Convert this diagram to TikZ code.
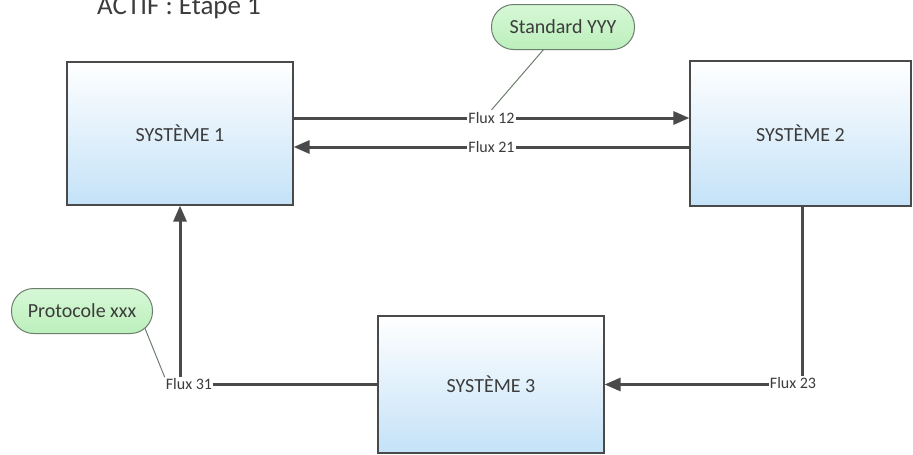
\documentclass[tikz,border=0pt]{standalone}
\usepackage{fontspec}
\setmainfont{Carlito}
\usetikzlibrary{arrows.meta,calc}
\pgfdeclarelayer{background}
\pgfsetlayers{background,main}
\definecolor{txt}{HTML}{3C3C3C}
\definecolor{edge}{HTML}{4A4A4A}
\definecolor{boxtop}{HTML}{FFFFFF}
\definecolor{boxbot}{HTML}{C4E2F8}
\definecolor{notetop}{HTML}{D6F8D6}
\definecolor{notebot}{HTML}{BCEFBC}
\definecolor{noteline}{HTML}{6E7E6E}
\tikzset{
  sysbox/.style={draw=edge, line width=1.2pt, top color=boxtop, bottom color=boxbot,
    inner sep=0pt, font=\fontsize{20}{24}\selectfont, text=txt},
  flow/.style={draw=edge, line width=3pt, -{Triangle[length=16pt,width=13pt]}},
  flowlbl/.style={fill=white, inner sep=1pt, font=\fontsize{16}{19}\selectfont, text=txt},
  note/.style={draw=noteline, line width=1pt, top color=notetop, bottom color=notebot,
    rounded corners=22pt, minimum height=45pt, inner sep=0pt,
    font=\fontsize{20}{24}\selectfont, text=txt},
  pointer/.style={draw=noteline, line width=1pt}
}
\begin{document}
\begin{tikzpicture}[x=1pt, y=-1pt]
\useasboundingbox (0,0) rectangle (913,455);

% heading
\node[anchor=base west, inner sep=0pt, font=\fontsize{27}{32}\selectfont, text=txt]
  (title) at (97,14) {ACTIF : Etape 1};

% systems
\node[sysbox, minimum width=226pt, minimum height=143pt] (s1) at (180,133.5) {SYSTÈME 1};
\node[sysbox, minimum width=221pt, minimum height=145pt] (s2) at (800.5,133.5) {SYSTÈME 2};
\node[sysbox, minimum width=226pt, minimum height=137pt] (s3) at (491,384.5) {SYSTÈME 3};

% flows between systems
\coordinate (y12) at (0,118);
\coordinate (y21) at (0,147);
\draw[flow] (s1.east |- y12) -- node[flowlbl] (l12) {Flux 12} (s2.west |- y12);
\draw[flow] (s2.west |- y21) -- node[flowlbl] (l21) {Flux 21} (s1.east |- y21);
\draw[flow] (s2.south -| 802,0) |- (s3.east);
\node[flowlbl] (l23) at (793,383) {Flux 23};
\draw[flow] (s3.west) -| (s1.south);
\node[flowlbl] (l31) at (189,384) {Flux 31};

% callouts
\node[note, minimum width=143pt] (std) at (563,27) {Standard YYY};
\node[note, minimum width=141pt] (prot) at (82,311) {Protocole xxx};
\begin{pgfonlayer}{background}
  \draw[pointer] (std.center) -- (l12.north);
  \draw[pointer] ($(prot.center)+(56,0)$) -- (l31.north west);
\end{pgfonlayer}
\end{tikzpicture}
\end{document}
